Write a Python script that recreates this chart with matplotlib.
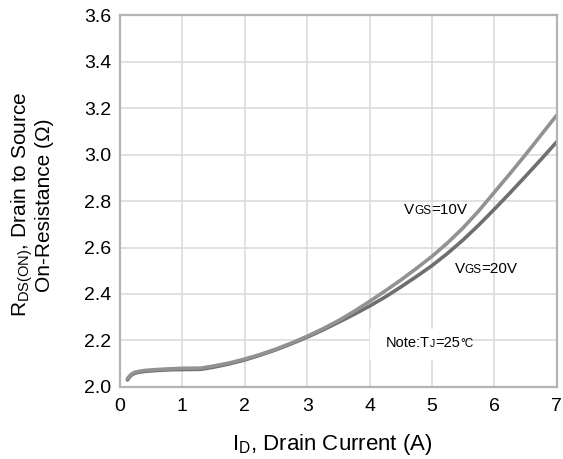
import matplotlib
matplotlib.use('Agg')
import matplotlib.pyplot as plt
from matplotlib.transforms import offset_copy

plt.rcParams['font.family'] = ['Liberation Sans', 'DejaVu Sans']
plt.rcParams['mathtext.default'] = 'regular'

# drain current (A) and on-resistance (ohm)
i_d = [0.12, 0.16, 0.2, 0.25, 0.3, 0.4, 0.6, 0.8, 1.0, 1.3, 1.5, 1.75, 2.0, 2.25, 2.5, 2.75,
       3.0, 3.25, 3.5, 3.75, 4.0, 4.25, 4.5, 4.75, 5.0, 5.25, 5.5, 5.75, 6.0, 6.25, 6.5, 6.75, 7.0]
r_10v = [2.035, 2.049, 2.058, 2.064, 2.067, 2.071, 2.075, 2.078, 2.080, 2.081, 2.090, 2.103,
         2.120, 2.140, 2.163, 2.189, 2.218, 2.250, 2.285, 2.325, 2.368, 2.413, 2.460, 2.510,
         2.562, 2.620, 2.685, 2.758, 2.838, 2.918, 3.000, 3.085, 3.170]
r_20v = [2.030, 2.045, 2.054, 2.060, 2.063, 2.067, 2.071, 2.074, 2.075, 2.076, 2.085, 2.099,
         2.116, 2.137, 2.160, 2.186, 2.214, 2.245, 2.278, 2.312, 2.348, 2.387, 2.430, 2.475,
         2.522, 2.575, 2.633, 2.697, 2.765, 2.835, 2.907, 2.980, 3.055]

fig = plt.figure(figsize=(5.63, 4.59), dpi=100)
ax = fig.add_axes([0.213, 0.157, 0.776, 0.81])

ax.plot(i_d, r_20v, color='#6f6f6f', lw=2.6, solid_capstyle='round')
ax.plot(i_d, r_10v, color='#929292', lw=2.6, solid_capstyle='round')

ax.set_xlim(0, 7)
ax.set_ylim(2.0, 3.6)
ax.set_xticks(range(8))
ax.set_yticks([2.0, 2.2, 2.4, 2.6, 2.8, 3.0, 3.2, 3.4, 3.6])
ax.set_yticklabels(['2.0', '2.2', '2.4', '2.6', '2.8', '3.0', '3.2', '3.4', '3.6'])
ax.grid(True, color='#dcdcdc', lw=1.2)
ax.set_axisbelow(True)
for s in ax.spines.values():
    s.set_color('#b4b4b4')
    s.set_linewidth(1.6)
ax.tick_params(length=0, labelsize=14)
ax.tick_params(axis='x', pad=8)
ax.tick_params(axis='y', pad=6)

ax.set_xlabel('I$_D$, Drain Current (A)', fontsize=16)
ax.set_ylabel('R$_{DS(ON)}$, Drain to Source\nOn-Resistance (Ω)', fontsize=15, linespacing=1.0)
ax.xaxis.set_label_coords(0.485, -0.12)
ax.yaxis.set_label_coords(-0.15, 0.49)


def label(x, y, parts):
    # draw text pieces side by side, each with its own size
    fig.canvas.draw()
    r = fig.canvas.get_renderer()
    dx = 0
    for txt, size in parts:
        tr = offset_copy(ax.transData, fig=fig, x=dx, y=0, units='dots')
        t = ax.text(x, y, txt, fontsize=size, transform=tr, va='baseline', ha='left')
        dx += t.get_window_extent(r).width


label(4.55, 2.745, [('V', 11), ('GS', 8.5), ('=10V', 11)])
label(5.36, 2.49, [('V', 11), ('GS', 8.5), ('=20V', 11)])
ax.add_patch(plt.Rectangle((4.0, 2.12), 1.45, 0.13, color='white', zorder=1.5))
label(4.26, 2.17, [('Note:T', 10.5), ('J', 7.5), ('=25', 10.5), ('°C', 8.5)])

fig.savefig('out.png', dpi=100)
